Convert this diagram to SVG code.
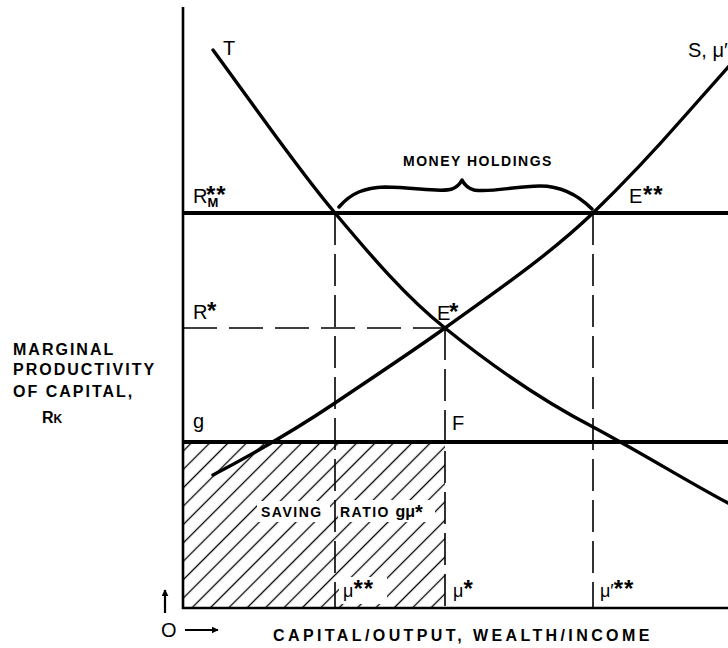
<svg xmlns="http://www.w3.org/2000/svg" width="728" height="648" viewBox="0 0 728 648">
<style>
text{font-family:"Liberation Sans",Arial,sans-serif;fill:#000}
.lab{font-size:20px}
.ast{font-size:24px;font-weight:bold;letter-spacing:1px}
.sub{font-size:13px;font-weight:bold}
.cap{font-size:14px;font-weight:bold;letter-spacing:1.5px}
.mu{font-size:18px}
.side{font-size:16px;font-weight:bold;letter-spacing:2px}
.axis{stroke:#000;stroke-width:2.6;fill:none}
.thick{stroke:#000;stroke-width:4;fill:none}
.curve{stroke:#000;stroke-width:3.4;fill:none;stroke-linecap:round}
.dash{stroke:#000;stroke-width:1.6;fill:none;stroke-dasharray:32 9}
.dashh{stroke:#000;stroke-width:1.6;fill:none;stroke-dasharray:34 12}
</style>
<defs>
<pattern id="hatch" patternUnits="userSpaceOnUse" width="13" height="13" patternTransform="rotate(45)">
<line x1="6.5" y1="0" x2="6.5" y2="13" stroke="#000" stroke-width="1.3"/>
</pattern>
<marker id="ah" viewBox="0 0 10 10" refX="9" refY="5" markerWidth="7" markerHeight="7" orient="auto" markerUnits="userSpaceOnUse">
<path d="M0,0 L10,5 L0,10 z" fill="#000"/>
</marker>
</defs>
<rect width="728" height="648" fill="#fff"/>

<g id="hatched-area">
<rect x="183" y="442" width="262" height="166" fill="url(#hatch)"/>
<rect x="257" y="501" width="73" height="21" fill="#fff"/>
<rect x="338" y="500" width="97" height="22" fill="#fff"/>
<rect x="339" y="577" width="48" height="27" fill="#fff"/>
</g>

<g id="connectors">
<line class="axis" x1="183" y1="7" x2="183" y2="609"/>
<line class="axis" x1="182" y1="608" x2="728" y2="608"/>
<line class="thick" x1="183" y1="213" x2="728" y2="213"/>
<line class="thick" x1="183" y1="442" x2="728" y2="442"/>
<line class="dashh" x1="183" y1="328" x2="445" y2="328"/>
<line class="dash" x1="335" y1="213" x2="335" y2="608"/>
<line class="dash" x1="445" y1="328" x2="445" y2="608"/>
<line class="dash" x1="593" y1="213" x2="593" y2="608"/>
<path id="curve-T" class="curve" d="M213,50 C260,114 300,172 335,213 C371,256 407,298 445,328 C492,366 541,400 593,427 C640,452 690,483 728,503"/>
<path id="curve-S" class="curve" d="M213,475 C255,453 295,430 335,403 C372,378 410,353 445,328 C495,292 548,256 593,213 C625,182 655,150 683,118 C700,99 715,82 730,65"/>
<path id="brace" stroke="#000" stroke-width="3.5" fill="none" stroke-linecap="round" stroke-linejoin="round" d="M339,207 C352,192 365,188 385,187 C415,187 440,193 452,189 C457,187 460,184 462,180 C464,184 467,188 474,190 C490,193 515,186 540,186 C560,186 578,195 592,209"/>
<line stroke="#000" stroke-width="2.2" x1="165" y1="613" x2="165" y2="590" marker-end="url(#ah)"/>
<line stroke="#000" stroke-width="2.2" x1="185" y1="630" x2="218" y2="630" marker-end="url(#ah)"/>
</g>

<g id="labels">
<text class="lab" x="223" y="55">T</text>
<text class="lab" x="688" y="57">S, μ′</text>
<text class="cap" x="403" y="166">MONEY HOLDINGS</text>

<text class="lab" x="193" y="203">R<tspan class="sub" dy="4">M</tspan><tspan class="ast" x="206" dy="-4">**</tspan></text>

<text class="lab" x="629" y="203">E<tspan class="ast" x="643">**</tspan></text>

<text class="lab" x="193" y="319">R<tspan class="ast" x="207">*</tspan></text>

<text class="lab" x="437" y="320">E<tspan class="ast" x="449">*</tspan></text>

<text class="lab" x="193" y="428">g</text>
<text class="lab" x="452" y="430">F</text>

<text class="cap" x="261" y="517">SAVING</text>
<text class="cap" x="340" y="517">RATIO <tspan style="font-size:16px;letter-spacing:0">gμ</tspan><tspan style="font-size:20px;letter-spacing:0" dy="2">*</tspan></text>

<text class="mu" x="343" y="597">μ<tspan class="ast">**</tspan></text>
<text class="mu" x="453" y="597">μ<tspan class="ast">*</tspan></text>
<text class="mu" x="600" y="597">μ′<tspan class="ast">**</tspan></text>

<text class="lab" x="161" y="637">O</text>
<text x="273" y="641" style="font-size:16px;font-weight:bold;letter-spacing:3.4px">CAPITAL/OUTPUT, WEALTH/INCOME</text>

<text class="side" x="13" y="355">MARGINAL</text>
<text class="side" x="13" y="375">PRODUCTIVITY</text>
<text class="side" x="13" y="397">OF CAPITAL,</text>
<text style="font-size:16px;font-weight:bold" x="42" y="423">R<tspan style="font-size:12px">K</tspan></text>
</g>
</svg>
